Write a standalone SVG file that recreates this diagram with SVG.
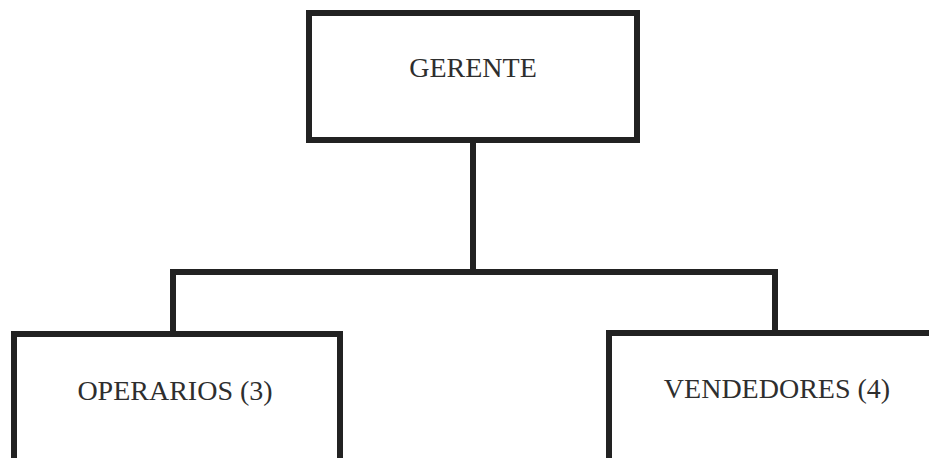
<svg xmlns="http://www.w3.org/2000/svg" width="929" height="458" viewBox="0 0 929 458">
  <style>
    .box { fill: #ffffff; stroke: #222222; stroke-width: 6; }
    .link { fill: none; stroke: #222222; stroke-width: 6; stroke-linecap: square; stroke-linejoin: miter; }
    .label { font-family: "Liberation Serif", "Times New Roman", serif; font-size: 28px; fill: #2e2e2e; text-anchor: middle; }
  </style>
  <rect width="929" height="458" fill="#ffffff"/>

  <!-- connectors -->
  <g id="connectors">
    <path class="link" d="M473 140 V272"/>
    <path class="link" d="M173 334 V272 H775 V333"/>
  </g>

  <!-- nodes -->
  <g id="gerente">
    <rect class="box" x="309" y="13" width="328" height="127"/>
    <text class="label" x="473" y="77">GERENTE</text>
  </g>
  <g id="operarios">
    <rect class="box" x="14" y="334" width="326" height="140"/>
    <text class="label" x="175" y="400">OPERARIOS (3)</text>
  </g>
  <g id="vendedores">
    <rect class="box" x="609" y="333" width="340" height="140"/>
    <text class="label" x="777" y="398">VENDEDORES (4)</text>
  </g>
</svg>
